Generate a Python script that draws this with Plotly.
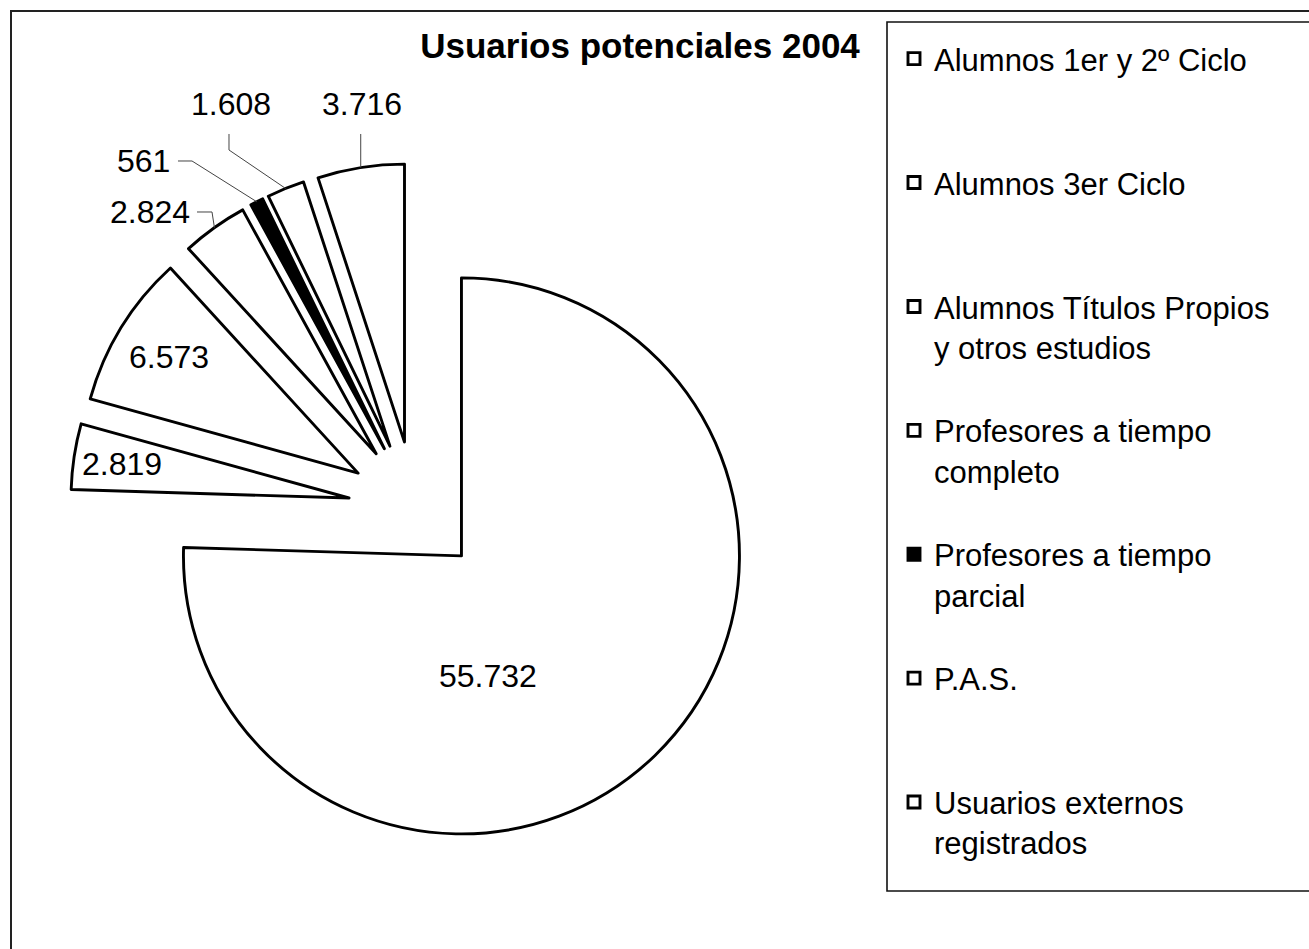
import math
import plotly.graph_objects as go

# Usuarios potenciales 2004
categories = [
    "Alumnos 1er y 2º Ciclo",
    "Alumnos 3er Ciclo",
    "Alumnos Títulos Propios<br>y otros estudios",
    "Profesores a tiempo<br>completo",
    "Profesores a tiempo<br>parcial",
    "P.A.S.",
    "Usuarios externos<br>registrados",
]
usuarios = [55732, 2819, 6573, 2824, 561, 1608, 3716]
slice_colors = ["white", "white", "white", "white", "black", "white", "white"]

# ---- layout geometry (pixels) ----
W, H = 1309, 949
CX, CY = 415, 508          # pie centre
RADIUS = 278               # slice radius
PULL = 0.24                # every slice is exploded by the same fraction
FONT = "Liberation Sans, Arial, Helvetica, sans-serif"

# label anchor for each slice (pixel centre of the text)
label_xy = [(488, 676), (122, 464), (169, 357), (150, 212),
            (143, 161), (231, 104), (362, 104)]
# leader line bend points (label side) for the labels drawn outside the slices
leader_bends = {3: [(197, 212), (212, 212)],
                4: [(178, 161), (192, 161)],
                5: [(229, 134), (229, 150)],
                6: [(None, 134)]}


def px(x, y):
    """pixel -> paper coordinates"""
    return x / W, 1 - y / H


def thousands(v):
    return f"{v:,}".replace(",", ".")


total = sum(usuarios)
mid_angles = []
acc = 0
for v in usuarios:
    mid_angles.append((acc + v / 2) / total * 360)
    acc += v

outer = RADIUS * (1 + PULL)
dom_x = [(CX - outer) / W, (CX + outer) / W]
dom_y = [1 - (CY + outer) / H, 1 - (CY - outer) / H]

# legend entries padded to three lines so every entry takes the same height
legend_names = []
for c in categories:
    n = c.count("<br>") + 1
    legend_names.append(c + "<br>\u00a0" * (3 - n))

fig = go.Figure(go.Pie(
    labels=legend_names,
    values=usuarios,
    sort=False,
    direction="clockwise",
    rotation=0,
    pull=[PULL] * len(usuarios),
    marker=dict(colors=slice_colors, line=dict(color="black", width=2.9)),
    textinfo="none",
    hoverinfo="value",
    domain=dict(x=dom_x, y=dom_y),
))

annotations = []
shapes = []
for i, (v, ang) in enumerate(zip(usuarios, mid_angles)):
    lx, ly = label_xy[i]
    x, y = px(lx, ly)
    annotations.append(dict(
        x=x, y=y, xref="paper", yref="paper", text=thousands(v),
        showarrow=False, xanchor="center", yanchor="middle",
        font=dict(family=FONT, size=32, color="black"),
    ))
    if i in leader_bends:
        t = math.radians(ang)
        ax = CX + outer * math.sin(t)
        ay = CY - outer * math.cos(t)
        pts = [(ax if bx is None else bx, by) for bx, by in leader_bends[i]] + [(ax, ay)]
        path = "M " + " L ".join(f"{px(a, b)[0]:.5f},{px(a, b)[1]:.5f}" for a, b in pts)
        shapes.append(dict(type="path", path=path, xref="paper", yref="paper",
                           line=dict(color="#444", width=1)))

# chart frame and legend frame
shapes.append(dict(type="rect", xref="paper", yref="paper",
                   x0=11 / W, x1=1.02, y0=-0.02, y1=1 - 11 / H,
                   line=dict(color="#222", width=2)))
shapes.append(dict(type="rect", xref="paper", yref="paper",
                   x0=887 / W, x1=1.02, y0=1 - 891 / H, y1=1 - 22 / H,
                   line=dict(color="#111", width=1.6)))

fig.update_layout(
    width=W, height=H,
    margin=dict(l=0, r=0, t=0, b=0, autoexpand=False),
    paper_bgcolor="white",
    plot_bgcolor="white",
    title=dict(text="<b>Usuarios potenciales 2004</b>", x=640 / W, y=1 - 46 / H,
               xref="container", yref="container", xanchor="center", yanchor="middle",
               font=dict(family=FONT, size=35, color="black")),
    showlegend=True,
    legend=dict(x=894 / W, xanchor="left", y=1 - 32 / H, yanchor="top",
                valign="top",
                bgcolor="rgba(0,0,0,0)", borderwidth=0,
                font=dict(family=FONT, size=31, color="black"),
                traceorder="normal"),
    annotations=annotations,
    shapes=shapes,
)

fig.write_html("out.html")
